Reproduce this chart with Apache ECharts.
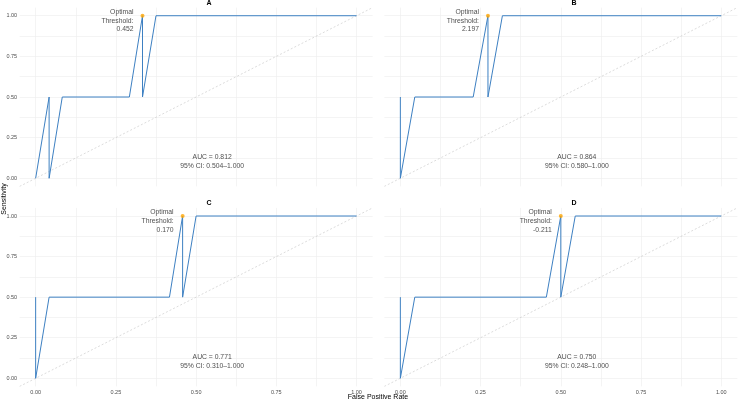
<!DOCTYPE html>
<html lang="en">
<head>
    <meta charset="UTF-8" />
    <title>ROC curves</title>
    <script src="https://cdn.jsdelivr.net/npm/echarts@6/dist/echarts.min.js"></script>
    <style>
        html, body { margin: 0; padding: 0; background: #fff; }
        #main { width: 738px; height: 400px; }
    </style>
</head>
<body>
    <div id="main"></div>
    <script>
        // panel names
        const panelNames = ['A', 'B', 'C', 'D'];

        // ROC paths (false positive rate, sensitivity), in drawing order
        const fprA = [0, 0.042, 0.042, 0.083, 0.292, 0.333, 0.333, 0.375, 1];
        const tprA = [0, 0.5, 0, 0.5, 0.5, 1, 0.5, 1, 1];
        const fprB = [0, 0, 0.045, 0.227, 0.273, 0.273, 0.318, 1];
        const tprB = [0.5, 0, 0.5, 0.5, 1, 0.5, 1, 1];
        const fprC = [0, 0, 0.042, 0.417, 0.458, 0.458, 0.5, 1];
        const tprC = [0.5, 0, 0.5, 0.5, 1, 0.5, 1, 1];
        const fprD = [0, 0, 0.045, 0.455, 0.5, 0.5, 0.545, 1];
        const tprD = [0.5, 0, 0.5, 0.5, 1, 0.5, 1, 1];

        // optimal cut points
        const optFpr = [0.333, 0.273, 0.458, 0.5];
        const optTpr = [1, 1, 1, 1];
        const thresholds = ['0.452', '2.197', '0.170', '-0.211'];

        // AUC annotations
        const aucValues = ['0.812', '0.864', '0.771', '0.750'];
        const ciLow = ['0.504', '0.580', '0.310', '0.248'];
        const ciHigh = ['1.000', '1.000', '1.000', '1.000'];
        const aucPos = [0.55, 0.1];

        // reference diagonal and axis ticks
        const diagonal = [-0.05, 1.05];
        const gridVals = [0, 0.125, 0.25, 0.375, 0.5, 0.625, 0.75, 0.875, 1];
        const tickVals = [0, 0.25, 0.5, 0.75, 1];

        const fprs = [fprA, fprB, fprC, fprD];
        const tprs = [tprA, tprB, tprC, tprD];

        const gridRects = [
            { left: 19.6, top: 7.6, width: 353, height: 178.8 },
            { left: 384.3, top: 7.6, width: 353, height: 178.8 },
            { left: 19.6, top: 207.9, width: 353, height: 178.5 },
            { left: 384.3, top: 207.9, width: 353, height: 178.5 }
        ];
        const titlePos = [[209, 0], [574, 0], [209, 199.5], [574, 199.5]];

        const font = 'Liberation Sans';
        const lineColor = '#3d80c2';

        let grids = [], xAxes = [], yAxes = [], series = [], graphics = [];

        panelNames.forEach(function (name, i) {
            grids.push(Object.assign({ containLabel: false }, gridRects[i]));
            xAxes.push({
                gridIndex: i,
                type: 'value',
                min: -0.05,
                max: 1.05,
                axisLine: { show: false },
                axisTick: { show: false, customValues: gridVals },
                axisLabel: {
                    show: i >= 2,
                    customValues: tickVals,
                    formatter: v => v.toFixed(2),
                    fontSize: 5.5,
                    color: '#4d4d4d',
                    fontFamily: font,
                    margin: 3
                },
                splitLine: { show: true, lineStyle: { color: '#ececec', width: 0.6 } }
            });
            yAxes.push({
                gridIndex: i,
                type: 'value',
                min: -0.05,
                max: 1.05,
                axisLine: { show: false },
                axisTick: { show: false, customValues: gridVals },
                axisLabel: {
                    show: i % 2 === 0,
                    customValues: tickVals,
                    formatter: v => v.toFixed(2),
                    fontSize: 5.5,
                    color: '#4d4d4d',
                    fontFamily: font,
                    margin: 2.5
                },
                splitLine: { show: true, lineStyle: { color: '#ececec', width: 0.6 } }
            });

            // dashed chance line
            series.push({
                type: 'line',
                xAxisIndex: i,
                yAxisIndex: i,
                data: diagonal.map(v => [v, v]),
                symbol: 'none',
                silent: true,
                lineStyle: { color: '#c4c4c4', width: 0.6, type: [2, 2] },
                z: 1
            });

            // ROC path
            series.push({
                type: 'line',
                xAxisIndex: i,
                yAxisIndex: i,
                data: fprs[i].map((x, k) => [x, tprs[i][k]]),
                symbol: 'none',
                lineStyle: { color: lineColor, width: 1 },
                z: 2
            });

            // optimal threshold point
            series.push({
                type: 'scatter',
                xAxisIndex: i,
                yAxisIndex: i,
                data: [[optFpr[i], optTpr[i]]],
                symbolSize: 4,
                itemStyle: { color: '#FFA500' },
                label: {
                    show: true,
                    position: 'left',
                    distance: 7,
                    offset: [0, 5],
                    align: 'right',
                    formatter: 'Optimal\nThreshold:\n' + thresholds[i],
                    fontSize: 6.8,
                    lineHeight: 8.7,
                    color: '#1a1a1a',
                    fontFamily: font
                },
                z: 3
            });

            // AUC annotation
            series.push({
                type: 'scatter',
                xAxisIndex: i,
                yAxisIndex: i,
                data: [aucPos],
                symbolSize: 0,
                silent: true,
                label: {
                    show: true,
                    position: 'inside',
                    formatter: 'AUC = ' + aucValues[i] + '\n95% CI: ' + ciLow[i] + '\u2013' + ciHigh[i],
                    fontSize: 6.8,
                    lineHeight: 9,
                    color: '#1a1a1a',
                    fontFamily: font,
                    align: 'center'
                },
                z: 3
            });

            graphics.push({
                type: 'text',
                x: titlePos[i][0],
                y: titlePos[i][1],
                style: {
                    text: name,
                    font: 'bold 7px ' + font,
                    fill: '#000',
                    textAlign: 'center',
                    textVerticalAlign: 'top'
                }
            });
        });

        graphics.push({
            type: 'text',
            x: 378,
            y: 393.2,
            style: {
                text: 'False Positive Rate',
                font: '7px ' + font,
                fill: '#000',
                textAlign: 'center',
                textVerticalAlign: 'top'
            }
        });
        graphics.push({
            type: 'text',
            x: 0.5,
            y: 199,
            rotation: Math.PI / 2,
            style: {
                text: 'Sensitivity',
                font: '7px ' + font,
                fill: '#000',
                textAlign: 'center',
                textVerticalAlign: 'top'
            }
        });

        const chart = echarts.init(document.getElementById('main'));
        chart.setOption({
            animation: false,
            backgroundColor: '#fff',
            grid: grids,
            xAxis: xAxes,
            yAxis: yAxes,
            series: series,
            graphic: { elements: graphics }
        });
    </script>
</body>
</html>
